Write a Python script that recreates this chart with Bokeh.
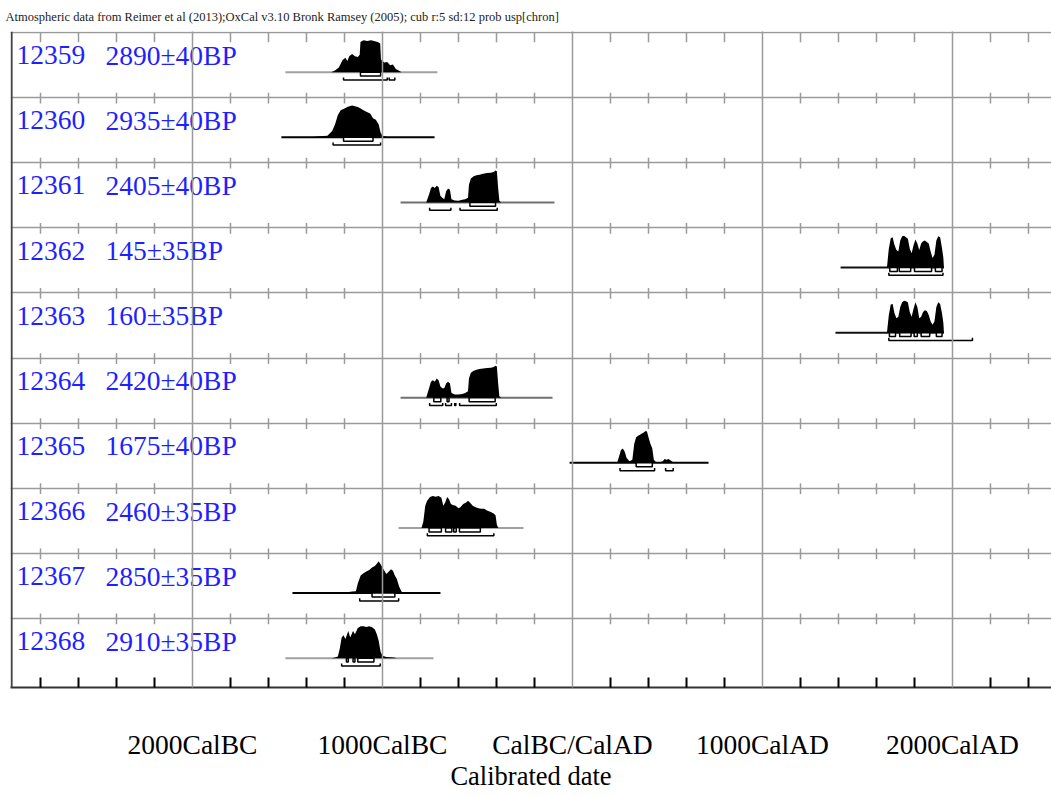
from bokeh.plotting import figure
from bokeh.models import Range1d, FixedTicker, Label, Span
from bokeh.embed import file_html
from bokeh.resources import INLINE

# ---------------- data ----------------
lab_codes = ["12359", "12360", "12361", "12362", "12363",
             "12364", "12365", "12366", "12367", "12368"]
bp_dates = ["2890±40BP", "2935±40BP", "2405±40BP", "145±35BP", "160±35BP",
            "2420±40BP", "1675±40BP", "2460±35BP", "2850±35BP", "2910±35BP"]

# extent of the plotted range line (cal. years, BC negative)
line_start = [-1511, -1532, -905, 1411, 1384, -905, -15, -916, -1474, -1511]
line_end = [-711, -726, -95, 1955, 1955, -105, 716, -258, -695, -732]

# probability distributions (cal. year, relative probability)
yr_12359 = [-1270, -1250, -1230, -1210, -1195, -1185, -1175, -1160, -1145, -1130, -1120, -1116,
            -1100, -1080, -1060, -1040, -1025, -1012, -1008, -1000, -990, -975, -960, -945,
            -930, -915, -900]
pr_12359 = [0, 0.05, 0.15, 0.38, 0.45, 0.35, 0.5, 0.57, 0.5, 0.48, 0.55, 0.95,
            1.0, 0.98, 1.0, 0.97, 0.95, 0.9, 0.4, 0.35, 0.3, 0.32, 0.22, 0.24,
            0.1, 0.05, 0]

yr_12360 = [-1380, -1330, -1290, -1265, -1250, -1235, -1220, -1200, -1185, -1170, -1160,
            -1145, -1130, -1115, -1100, -1085, -1065, -1050, -1035, -1020, -1010, -1000,
            -980, -960]
pr_12360 = [0, 0.03, 0.05, 0.2, 0.4, 0.7, 0.85, 0.9, 0.95, 0.98, 1.0,
            0.97, 0.95, 0.9, 0.85, 0.8, 0.75, 0.6, 0.55, 0.4, 0.15, 0.05,
            0.02, 0]

yr_12361 = [-770, -755, -745, -735, -725, -715, -705, -695, -685, -675, -665, -655, -645,
            -637, -620, -600, -580, -565, -550, -545, -535, -520, -505, -490, -470, -450,
            -430, -415, -405, -398, -392, -385, -375]
pr_12361 = [0, 0.25, 0.45, 0.5, 0.45, 0.52, 0.48, 0.2, 0.15, 0.1, 0.35, 0.44, 0.4,
            0.1, 0.06, 0.05, 0.08, 0.1, 0.15, 0.55, 0.75, 0.82, 0.85, 0.87, 0.9, 0.92,
            0.93, 0.95, 1.0, 0.98, 0.5, 0.05, 0]

yr_12362 = [1655, 1665, 1675, 1685, 1695, 1705, 1715, 1725, 1735, 1745, 1755, 1765,
            1775, 1785, 1795, 1805, 1815, 1825, 1835, 1845, 1855, 1865, 1875, 1885,
            1895, 1905, 1915, 1925, 1935, 1945, 1952, 1955]
pr_12362 = [0, 0.6, 0.92, 0.95, 0.7, 0.55, 0.5, 0.85, 0.98, 1.0, 0.95, 0.9,
            0.6, 0.45, 0.7, 0.88, 0.75, 0.55, 0.75, 0.82, 0.85, 0.8, 0.75, 0.5,
            0.3, 0.4, 0.85, 0.98, 0.95, 0.6, 0.3, 0]

yr_12363 = [1655, 1665, 1675, 1685, 1695, 1705, 1715, 1725, 1735, 1745, 1755, 1765,
            1775, 1785, 1795, 1805, 1815, 1825, 1835, 1845, 1855, 1865, 1875, 1885,
            1895, 1905, 1915, 1925, 1935, 1945, 1952, 1955]
pr_12363 = [0, 0.55, 0.88, 0.9, 0.6, 0.45, 0.5, 0.8, 0.95, 1.0, 0.98, 0.95,
            0.65, 0.5, 0.75, 0.95, 0.8, 0.45, 0.5, 0.65, 0.7, 0.68, 0.55, 0.35,
            0.25, 0.35, 0.8, 0.95, 0.9, 0.6, 0.3, 0]

yr_12364 = [-770, -755, -745, -735, -725, -715, -705, -695, -685, -675, -665, -655, -645,
            -637, -620, -600, -580, -565, -550, -545, -535, -520, -505, -490, -470, -450,
            -430, -415, -405, -398, -392, -385, -375]
pr_12364 = [0, 0.3, 0.5, 0.55, 0.5, 0.6, 0.55, 0.35, 0.3, 0.3, 0.45, 0.5, 0.45,
            0.15, 0.1, 0.1, 0.12, 0.15, 0.2, 0.6, 0.78, 0.85, 0.88, 0.9, 0.92, 0.93,
            0.94, 0.96, 1.0, 0.98, 0.5, 0.05, 0]

yr_12365 = [235, 245, 255, 265, 275, 285, 300, 315, 325, 335, 345, 355, 365, 375, 385,
            392, 400, 410, 420, 428, 440, 460, 475, 485, 495, 505, 515, 530, 540]
pr_12365 = [0, 0.2, 0.4, 0.45, 0.35, 0.15, 0.05, 0.1, 0.6, 0.8, 0.85, 0.88, 0.92, 0.95, 1.0,
            0.98, 0.8, 0.6, 0.45, 0.1, 0.02, 0.02, 0.05, 0.12, 0.1, 0.12, 0.08, 0.02, 0]

yr_12366 = [-795, -785, -775, -765, -750, -735, -720, -705, -690, -680, -670, -660, -650,
            -640, -630, -615, -600, -590, -575, -560, -550, -540, -525, -510, -495, -480,
            -465, -450, -430, -415, -405, -398, -390]
pr_12366 = [0, 0.2, 0.7, 0.85, 0.97, 1.0, 0.98, 1.0, 0.95, 0.7, 0.8, 0.97, 0.9,
            0.75, 0.72, 0.7, 0.62, 0.65, 0.75, 0.8, 0.85, 0.8, 0.7, 0.65, 0.62, 0.6,
            0.6, 0.55, 0.5, 0.45, 0.4, 0.1, 0]

yr_12367 = [-1200, -1185, -1160, -1140, -1130, -1115, -1100, -1085, -1070, -1055, -1040,
            -1030, -1020, -1010, -1000, -990, -980, -970, -955, -945, -935, -925, -912,
            -900, -890]
pr_12367 = [0, 0.03, 0.05, 0.06, 0.3, 0.55, 0.62, 0.68, 0.72, 0.8, 0.85,
            0.92, 1.0, 0.9, 0.8, 0.7, 0.6, 0.65, 0.75, 0.7, 0.55, 0.45, 0.2,
            0.05, 0]

yr_12368 = [-1270, -1250, -1235, -1225, -1215, -1205, -1195, -1180, -1170, -1155, -1145,
            -1130, -1115, -1100, -1085, -1070, -1055, -1040, -1030, -1020, -1010, -1000,
            -980, -960, -940, -925]
pr_12368 = [0, 0.02, 0.05, 0.3, 0.65, 0.72, 0.6, 0.85, 0.65, 0.85, 0.75,
            0.95, 1.0, 1.0, 0.98, 1.0, 0.97, 0.9, 0.75, 0.55, 0.2, 0.08,
            0.04, 0.03, 0.02, 0]

# 68.2% (1 sigma) and 95.4% (2 sigma) ranges
s1_12359 = [(-1116, -1010)]
s2_12359 = [(-1205, -975), (-965, -935)]
s1_12360 = [(-1205, -1050)]
s2_12360 = [(-1260, -1010)]
s1_12361 = [(-540, -405)]
s2_12361 = [(-752, -640), (-592, -396)]
s1_12362 = [(1670, 1710), (1720, 1780), (1800, 1890), (1910, 1945)]
s2_12362 = [(1665, 1950)]
s1_12363 = [(1668, 1700), (1722, 1782), (1798, 1815), (1835, 1880), (1915, 1945)]
s2_12363 = [(1665, 2105)]
s1_12364 = [(-730, -693), (-660, -650), (-544, -407)]
s2_12364 = [(-752, -683), (-668, -637), (-620, -614), (-594, -401)]
s1_12365 = [(335, 420)]
s2_12365 = [(250, 432), (490, 530)]
s1_12366 = [(-755, -690), (-668, -635), (-625, -612), (-595, -485)]
s2_12366 = [(-764, -414)]
s1_12367 = [(-1055, -935)]
s2_12367 = [(-1120, -915)]
s1_12368 = [(-1190, -1180), (-1155, -1145), (-1130, -1045)]
s2_12368 = [(-1215, -1012)]

major_years = [-2000, -1000, 0, 1000, 2000]
major_labels = ["2000CalBC", "1000CalBC", "CalBC/CalAD", "1000CalAD", "2000CalAD"]
minor_years = [y for y in range(-2800, 2600, 200) if y % 1000 != 0]

title_text = ("Atmospheric data from Reimer et al (2013);OxCal v3.10 Bronk Ramsey (2005); "
              "cub r:5 sd:12 prob usp[chron]")

# ---------------- styles ----------------
line_colors = ["#a0a0a0", "#000000", "#707070", "#111111", "#111111",
               "#707070", "#000000", "#a0a0a0", "#000000", "#a0a0a0"]
SERIF = "Liberation Serif"
GRID = "#9a9a9a"
BASE = 0.61
HMAX = 0.49
BOX = 0.06
BR = 0.73
BRT = 0.04

dists = [(yr_12359, pr_12359), (yr_12360, pr_12360), (yr_12361, pr_12361),
         (yr_12362, pr_12362), (yr_12363, pr_12363), (yr_12364, pr_12364),
         (yr_12365, pr_12365), (yr_12366, pr_12366), (yr_12367, pr_12367),
         (yr_12368, pr_12368)]
sig1 = [s1_12359, s1_12360, s1_12361, s1_12362, s1_12363,
        s1_12364, s1_12365, s1_12366, s1_12367, s1_12368]
sig2 = [s2_12359, s2_12360, s2_12361, s2_12362, s2_12363,
        s2_12364, s2_12365, s2_12366, s2_12367, s2_12368]

p = figure(frame_width=1041, frame_height=656,
           x_range=Range1d(-2957.9, 2521.1), y_range=Range1d(10.06, -0.015),
           y_axis_location=None, toolbar_location=None, output_backend="svg",
           min_border_left=10, min_border_right=0, min_border_top=31, min_border_bottom=0,
           title=title_text)
p.outline_line_color = None
p.background_fill_color = "white"
p.border_fill_color = "white"

p.title.text_font = SERIF
p.title.text_font_size = "12.5px"
p.title.text_font_style = "normal"
p.title.text_color = "#222222"
p.title.align = "left"
p.title.offset = -5
p.title.standoff = 15

# x axis
p.xaxis.ticker = FixedTicker(ticks=major_years, minor_ticks=minor_years)
p.xaxis.major_label_overrides = {y: lab for y, lab in zip(major_years, major_labels)}
p.xaxis.major_tick_line_color = None
p.xaxis.major_tick_in = 0
p.xaxis.major_tick_out = 0
p.xaxis.minor_tick_in = 10
p.xaxis.minor_tick_out = 0
p.xaxis.minor_tick_line_color = "black"
p.xaxis.minor_tick_line_width = 2
p.xaxis.axis_line_color = "#333333"
p.xaxis.axis_line_width = 2
p.xaxis.major_label_text_font = SERIF
p.xaxis.major_label_text_font_size = "27.5px"
p.xaxis.major_label_text_color = "black"
p.xaxis.major_label_standoff = 41
p.xaxis.axis_label = "Calibrated date"
p.xaxis.axis_label_text_font = SERIF
p.xaxis.axis_label_text_font_size = "26.5px"
p.xaxis.axis_label_text_font_style = "normal"
p.xaxis.axis_label_text_color = "black"
p.xaxis.axis_label_standoff = -2

# grids
p.xgrid.ticker = FixedTicker(ticks=major_years)
p.xgrid.grid_line_color = GRID
p.xgrid.grid_line_width = 1.5
p.xgrid.level = "overlay"
p.ygrid.ticker = FixedTicker(ticks=list(range(0, 10)))
p.ygrid.grid_line_color = GRID
p.ygrid.grid_line_width = 1.5

# left frame line
p.add_layout(Span(location=-2952, dimension="height", line_color="#444444", line_width=2))

# row ticks on each row's top line
for j in range(10):
    y0 = j if j == 0 else j - 0.075
    y1 = j + 0.15 if j == 0 else j + 0.09
    p.segment(x0=minor_years, x1=minor_years, y0=[y0] * len(minor_years),
              y1=[y1] * len(minor_years), line_color=GRID, line_width=1.5)

for i in range(10):
    base = i + BASE
    p.line([line_start[i], line_end[i]], [base, base], line_color=line_colors[i], line_width=2)
    yrs, prs = dists[i]
    p.varea(x=yrs, y1=[base] * len(yrs), y2=[base - HMAX * v for v in prs],
            fill_color="black")
    p.quad(left=[a for a, b in sig1[i]], right=[b for a, b in sig1[i]],
           top=[base] * len(sig1[i]), bottom=[base + BOX] * len(sig1[i]),
           fill_color="white", line_color="black", line_width=1.5)
    br = base + BR - BASE
    xs = [[a, a, b, b] for a, b in sig2[i]]
    ys = [[br - BRT, br, br, br - BRT] for a, b in sig2[i]]
    p.multi_line(xs, ys, line_color="black", line_width=1.5)

    p.add_layout(Label(x=6, y=i + 0.35, x_units="screen", y_units="data",
                       text=lab_codes[i], text_baseline="middle",
                       text_font=SERIF, text_font_size="27.5px", text_color="#1f1fff"))
    p.add_layout(Label(x=95, y=i + 0.35, x_units="screen", y_units="data",
                       text=bp_dates[i], text_baseline="middle",
                       text_font=SERIF, text_font_size="27.5px", text_color="#1f1fff"))

open("out.html", "w").write(file_html(p, INLINE))
